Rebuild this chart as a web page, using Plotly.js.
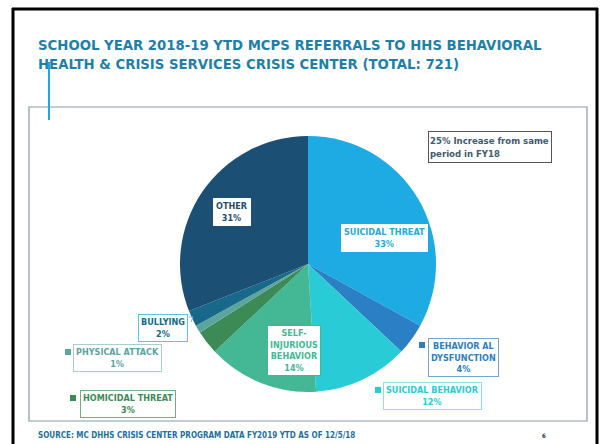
<!DOCTYPE html>
<html>
<head>
<meta charset="utf-8">
<script src="https://cdn.plot.ly/plotly-3.0.1.min.js"></script>
<style>html,body{margin:0;padding:0;background:#fff;}#chart{width:602px;height:444px;}</style>
</head>
<body>
<div id="chart"></div>
<script>
// ---- data ----
const categories = ["SUICIDAL THREAT", "BEHAVIORAL DYSFUNCTION", "SUICIDAL BEHAVIOR", "SELF-INJURIOUS BEHAVIOR", "HOMICIDAL THREAT", "PHYSICAL ATTACK", "BULLYING", "OTHER"];
const percents = [33, 4, 12, 14, 3, 1, 2, 31];
const labelLines = ["SUICIDAL THREAT", "BEHAVIOR AL<br>DYSFUNCTION", "SUICIDAL BEHAVIOR", "SELF-<br>INJURIOUS<br>BEHAVIOR", "HOMICIDAL THREAT", "PHYSICAL ATTACK", "BULLYING", "OTHER"];
const titleLines = ["SCHOOL YEAR 2018-19 YTD MCPS REFERRALS TO HHS BEHAVIORAL", "HEALTH & CRISIS SERVICES CRISIS CENTER (TOTAL: 721)"];
const noteText = "25% Increase from same<br>period in FY18";
const sourceText = "SOURCE: MC DHHS CRISIS CENTER PROGRAM DATA FY2019 YTD AS OF 12/5/18";
const pageNumber = "6";

// ---- style ----
const W = 602, H = 444;
const px = x => x / W, py = y => 1 - y / H;
const colors = ["#1EAAE2", "#2B7FC4", "#29CBD6", "#44B894", "#3C8A56", "#5CA49F", "#17688A", "#1B4F74"];
const textColors = ["#1EAAE2", "#2B7FC4", "#29CBD6", "#44B894", "#3C8A56", "#5CA49F", "#17688A", "#1B4F74"];
const borderColors = ["#ffffff", "#6FA7D8", "#8FE0E6", "#44B894", "#6FAF82", "#A6CFCC", "#5DC1EA", "#ffffff"];
// label box centers (px) and marker squares
const boxPos = [[384, 238], [463, 357], [432, 396], [294, 350], [128, 404], [117, 358], [163, 328], [232, 212]];
const markers = [null, [422, 345], [378, 390], null, [73, 398], [68, 352], null, null];
const FONT = "'DejaVu Sans Condensed', 'DejaVu Sans', sans-serif";

const cx = 308, cy = 264, r = 128;
const trace = {
  type: "pie",
  labels: categories,
  values: percents,
  sort: false,
  direction: "clockwise",
  rotation: 0,
  textinfo: "none",
  hoverinfo: "label+percent",
  marker: {colors: colors, line: {width: 0}},
  domain: {x: [px(cx - r), px(cx + r)], y: [py(cy + r), py(cy - r)]},
  showlegend: false
};

const annotations = [];
titleLines.forEach((t, i) => annotations.push({
  text: "<b>" + t + "</b>", xref: "paper", yref: "paper", x: px(36), y: py(45 + i * 19),
  xanchor: "left", yanchor: "middle", showarrow: false,
  font: {family: FONT, size: 14.75, color: "#1E7FA8"}
}));
categories.forEach((c, i) => annotations.push({
  text: "<b>" + labelLines[i] + "<br>" + percents[i] + "%</b>", xref: "paper", yref: "paper",
  x: px(boxPos[i][0]), y: py(boxPos[i][1]), xanchor: "center", yanchor: "middle", showarrow: false,
  align: "center", bgcolor: "#ffffff", bordercolor: borderColors[i], borderwidth: 1, borderpad: 2,
  font: {family: FONT, size: 9, color: textColors[i]}
}));
annotations.push({
  text: "<b>" + noteText + "</b>", xref: "paper", yref: "paper", x: px(428), y: py(131),
  xanchor: "left", yanchor: "top", showarrow: false, align: "left",
  width: 120, height: 28, bgcolor: "#ffffff", bordercolor: "#555555", borderwidth: 1, borderpad: 1,
  font: {family: FONT, size: 9.5, color: "#3E5A6E"}
});
annotations.push({
  text: "<b>" + sourceText + "</b>", xref: "paper", yref: "paper", x: px(36), y: py(435),
  xanchor: "left", yanchor: "middle", showarrow: false,
  font: {family: FONT, size: 8, color: "#1E6E9E"}
});
annotations.push({
  text: "<b>" + pageNumber + "</b>", xref: "paper", yref: "paper", x: px(544), y: py(435),
  xanchor: "center", yanchor: "middle", showarrow: false,
  font: {family: FONT, size: 6, color: "#333333"}
});

const shapes = [
  // outer slide border
  {type: "line", xref: "paper", yref: "paper", x0: px(13), x1: px(13), y0: py(8), y1: py(444), line: {color: "#000", width: 3}},
  {type: "line", xref: "paper", yref: "paper", x0: px(12), x1: px(598), y0: py(9), y1: py(9), line: {color: "#000", width: 3}},
  {type: "line", xref: "paper", yref: "paper", x0: px(597), x1: px(597), y0: py(8), y1: py(444), line: {color: "#000", width: 3}},
  // inner gray frame
  {type: "rect", xref: "paper", yref: "paper", x0: px(29), x1: px(587), y0: py(107), y1: py(421), line: {color: "#8A9BAA", width: 1.2}},
  // accent line
  {type: "line", xref: "paper", yref: "paper", x0: px(49), x1: px(49), y0: py(62), y1: py(120), line: {color: "#1EA7E0", width: 2}},
  // bullying leader tick
  {type: "line", xref: "paper", yref: "paper", x0: px(189), x1: px(193), y0: py(317), y1: py(317), line: {color: "#5DC1EA", width: 1}},
  {type: "line", xref: "paper", yref: "paper", x0: px(193), x1: px(191), y0: py(317), y1: py(322), line: {color: "#5DC1EA", width: 1}}
];
markers.forEach((m, i) => {
  if (!m) return;
  shapes.push({type: "rect", xref: "paper", yref: "paper", x0: px(m[0] - 3), x1: px(m[0] + 3), y0: py(m[1] + 3), y1: py(m[1] - 3),
    fillcolor: colors[i], line: {width: 0}});
});

const layout = {
  width: W, height: H,
  margin: {l: 0, r: 0, t: 0, b: 0},
  paper_bgcolor: "#ffffff",
  annotations: annotations,
  shapes: shapes,
  showlegend: false
};
Plotly.newPlot("chart", [trace], layout, {displayModeBar: false, staticPlot: true});
</script>
</body>
</html>
